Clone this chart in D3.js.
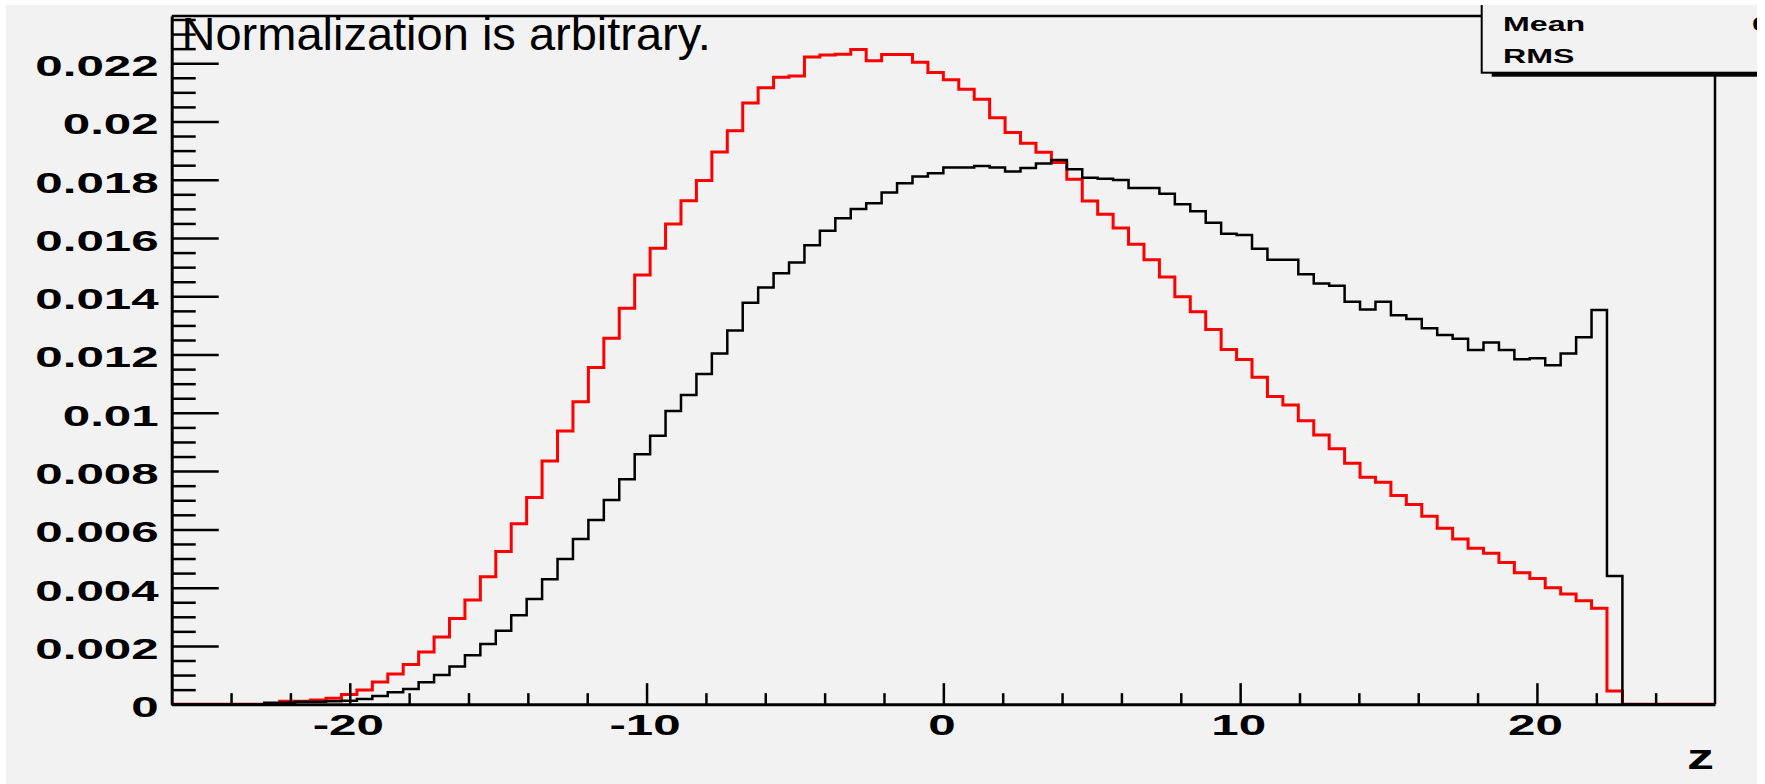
<!DOCTYPE html>
<html>
<head>
<meta charset="utf-8">
<script src="https://cdn.jsdelivr.net/npm/d3@7"></script>
<style>
  html, body { margin: 0; padding: 0; background: #ffffff; }
  svg { display: block; }
  text { font-family: "Liberation Sans", Arial, Helvetica, sans-serif; }
</style>
</head>
<body>
<svg id="chart" width="1765" height="784"></svg>
<script>
// ---------------- data ----------------
const binLow = -26;
const binWidth = 0.52;
const redValues = [
  0, 0, 0, 0, 0, 0, 0, 0.0001, 0.0001, 0.00014,
  0.0002, 0.00033, 0.00049, 0.00076, 0.00104, 0.00136, 0.00179, 0.00231, 0.00294, 0.00358,
  0.00437, 0.00524, 0.00619, 0.00709, 0.00835, 0.00938, 0.01038, 0.01156, 0.01256, 0.01359,
  0.01473, 0.01565, 0.01648, 0.01728, 0.01797, 0.01895, 0.01968, 0.02063, 0.02116, 0.02152,
  0.02156, 0.02221, 0.02228, 0.02231, 0.02247, 0.02208, 0.0223, 0.0223, 0.02203, 0.02168,
  0.02143, 0.02111, 0.02076, 0.02013, 0.01962, 0.01925, 0.01894, 0.01859, 0.01802, 0.01727,
  0.01682, 0.01634, 0.01579, 0.01525, 0.01466, 0.01398, 0.01347, 0.01286, 0.01217, 0.01183,
  0.01122, 0.01056, 0.01027, 0.00973, 0.00924, 0.00877, 0.00827, 0.00779, 0.00762, 0.00716,
  0.00685, 0.00645, 0.00604, 0.00567, 0.00535, 0.00518, 0.00486, 0.00451, 0.00431, 0.004,
  0.00378, 0.00355, 0.00329, 0.00045, 0, 0, 0, 0, 0, 0
];
const blackValues = [
  0, 0, 0, 0, 0, 0, 0.00005, 0.00005, 0.00008, 0.00008,
  0.0001, 0.00012, 0.00018, 0.00028, 0.00041, 0.00052, 0.00075, 0.001, 0.00129, 0.00168,
  0.00207, 0.00252, 0.00305, 0.00361, 0.00429, 0.00498, 0.00567, 0.00632, 0.00701, 0.00772,
  0.00858, 0.00921, 0.01006, 0.01061, 0.01133, 0.01204, 0.01283, 0.01378, 0.0143, 0.01479,
  0.01516, 0.01575, 0.01625, 0.01668, 0.017, 0.01719, 0.01756, 0.01788, 0.01811, 0.01822,
  0.01842, 0.01842, 0.01847, 0.01842, 0.01828, 0.0184, 0.01856, 0.01868, 0.01836, 0.01807,
  0.01803, 0.01799, 0.01772, 0.01772, 0.01752, 0.01716, 0.01692, 0.01652, 0.01615, 0.0161,
  0.01563, 0.01525, 0.01525, 0.01476, 0.01444, 0.01436, 0.01381, 0.01355, 0.01381, 0.01335,
  0.01322, 0.0129, 0.01267, 0.01254, 0.01216, 0.01241, 0.01216, 0.01184, 0.01187, 0.01163,
  0.01204, 0.01259, 0.01353, 0.0044, 0, 0, 0, 0, 0, 0
];
const xMajorTicks = [-20, -10, 0, 10, 20];
const xTickLabels = ["-20", "-10", "0", "10", "20"];
const xMinorTicks = [-24, -22, -18, -16, -14, -12, -8, -6, -4, -2, 2, 4, 6, 8, 12, 14, 16, 18, 22, 24];
const yMajorTicks = [0, 0.002, 0.004, 0.006, 0.008, 0.01, 0.012, 0.014, 0.016, 0.018, 0.02, 0.022];
const yTickLabels = ["0", "0.002", "0.004", "0.006", "0.008", "0.01", "0.012", "0.014", "0.016", "0.018", "0.02", "0.022"];
const yMinorTicks = [0.0005, 0.001, 0.0015, 0.0025, 0.003, 0.0035, 0.0045, 0.005, 0.0055, 0.0065, 0.007, 0.0075,
  0.0085, 0.009, 0.0095, 0.0105, 0.011, 0.0115, 0.0125, 0.013, 0.0135, 0.0145, 0.015, 0.0155,
  0.0165, 0.017, 0.0175, 0.0185, 0.019, 0.0195, 0.0205, 0.021, 0.0215, 0.0225, 0.023, 0.0235];
const xTitle = "z";
const noteText = "Normalization is arbitrary.";
const statsLabels = ["Mean", "RMS"];

// ---------------- layout ----------------
const svg = d3.select("#chart");
const X0 = 171.7, X1 = 1715, Y0 = 704.2, Y1 = 16;
const x = d3.scaleLinear().domain([-26, 26]).range([X0, X1]);
const y = d3.scaleLinear().domain([0, 0.02362]).range([Y0, Y1]);
const BG = "#f2f2f2";
const LBL_FS = 29, LBL_SX = 1.7;

svg.append("rect").attr("x", 0).attr("y", 0).attr("width", 1765).attr("height", 784).attr("fill", BG);

// frame top & right
svg.append("line").attr("x1", X0).attr("x2", X1).attr("y1", Y1).attr("y2", Y1)
  .attr("stroke", "#000").attr("stroke-width", 2.5);
svg.append("line").attr("x1", X1).attr("x2", X1).attr("y1", Y1).attr("y2", Y0)
  .attr("stroke", "#000").attr("stroke-width", 2.5);

// histograms
function stepPoints(vals) {
  const pts = [[binLow, 0]];
  vals.forEach((v, i) => {
    pts.push([binLow + i * binWidth, v]);
    pts.push([binLow + (i + 1) * binWidth, v]);
  });
  pts.push([binLow + vals.length * binWidth, 0]);
  return pts;
}
const line = d3.line().x(d => x(d[0])).y(d => y(d[1]));
svg.append("path").attr("d", line(stepPoints(redValues)))
  .attr("fill", "none").attr("stroke", "#ff0000").attr("stroke-width", 3).attr("stroke-linejoin", "miter");
svg.append("path").attr("d", line(stepPoints(blackValues)))
  .attr("fill", "none").attr("stroke", "#000").attr("stroke-width", 2.5).attr("stroke-linejoin", "miter");

// y axis
const yMinorAxis = d3.axisLeft(y).tickValues(yMinorTicks).tickSizeInner(-24).tickSizeOuter(0).tickFormat("");
const gyMinor = svg.append("g").attr("transform", `translate(${X0},0)`).call(yMinorAxis);
gyMinor.select(".domain").remove();
gyMinor.selectAll("line").attr("stroke", "#000").attr("stroke-width", 2.5);

const yAxis = d3.axisLeft(y).tickValues(yMajorTicks).tickSizeInner(-47).tickSizeOuter(0)
  .tickFormat((d, i) => yTickLabels[i]);
const gy = svg.append("g").attr("transform", `translate(${X0},0)`).call(yAxis);
gy.select(".domain").attr("stroke", "#000").attr("stroke-width", 3);
gy.selectAll("line").attr("stroke", "#000").attr("stroke-width", 2.5);
gy.selectAll("text")
  .attr("x", null).attr("dy", null)
  .attr("transform", `translate(-13,${2 + 0.358 * LBL_FS}) scale(${LBL_SX},1)`)
  .attr("font-size", LBL_FS).attr("font-weight", "bold").attr("fill", "#000")
  .attr("font-family", "'Liberation Sans', Arial, sans-serif");

// x axis
const xMinorAxis = d3.axisBottom(x).tickValues(xMinorTicks).tickSizeInner(-11).tickSizeOuter(0).tickFormat("");
const gxMinor = svg.append("g").attr("transform", `translate(0,${Y0})`).call(xMinorAxis);
gxMinor.select(".domain").remove();
gxMinor.selectAll("line").attr("stroke", "#000").attr("stroke-width", 2.5);

const xAxis = d3.axisBottom(x).tickValues(xMajorTicks).tickSizeInner(-21).tickSizeOuter(0)
  .tickFormat((d, i) => xTickLabels[i]);
const gx = svg.append("g").attr("transform", `translate(0,${Y0})`).call(xAxis);
gx.select(".domain").attr("stroke", "#000").attr("stroke-width", 3);
gx.selectAll("line").attr("stroke", "#000").attr("stroke-width", 2.5);
gx.selectAll("text")
  .attr("y", null).attr("dy", null)
  .attr("transform", `translate(-2,31) scale(${LBL_SX},1)`)
  .attr("font-size", LBL_FS).attr("font-weight", "bold").attr("fill", "#000")
  .attr("font-family", "'Liberation Sans', Arial, sans-serif");

// axis title
svg.append("text").attr("transform", "translate(1714,769) scale(1.5,1)")
  .attr("text-anchor", "end").attr("font-size", 36).attr("font-weight", "bold").text(xTitle);

// note
svg.append("text").attr("x", 181.5).attr("y", 49.5).attr("font-size", 47).attr("fill", "#000").text(noteText);

// stats box
svg.append("rect").attr("x", 1491.7).attr("y", 72).attr("width", 300).attr("height", 4.7).attr("fill", "#000");
svg.append("rect").attr("x", 1481.7).attr("y", -20).attr("width", 320).attr("height", 92.7)
  .attr("fill", BG).attr("stroke", "#000").attr("stroke-width", 2);
statsLabels.forEach((t, i) => {
  svg.append("text").attr("transform", `translate(1503,${30.7 + i * 32.6}) scale(1.65,1)`)
    .attr("font-size", 19.5).attr("font-weight", "bold").text(t);
});
svg.append("text").attr("transform", "translate(1752,30.7) scale(1.65,1)")
  .attr("font-size", 19.5).attr("font-weight", "bold").text("0");

// white canvas margins
svg.append("rect").attr("x", 0).attr("y", 0).attr("width", 1765).attr("height", 5).attr("fill", "#fff");
svg.append("rect").attr("x", 0).attr("y", 0).attr("width", 6).attr("height", 784).attr("fill", "#fff");
svg.append("rect").attr("x", 1757).attr("y", 0).attr("width", 8).attr("height", 784).attr("fill", "#fff");
</script>
</body>
</html>
